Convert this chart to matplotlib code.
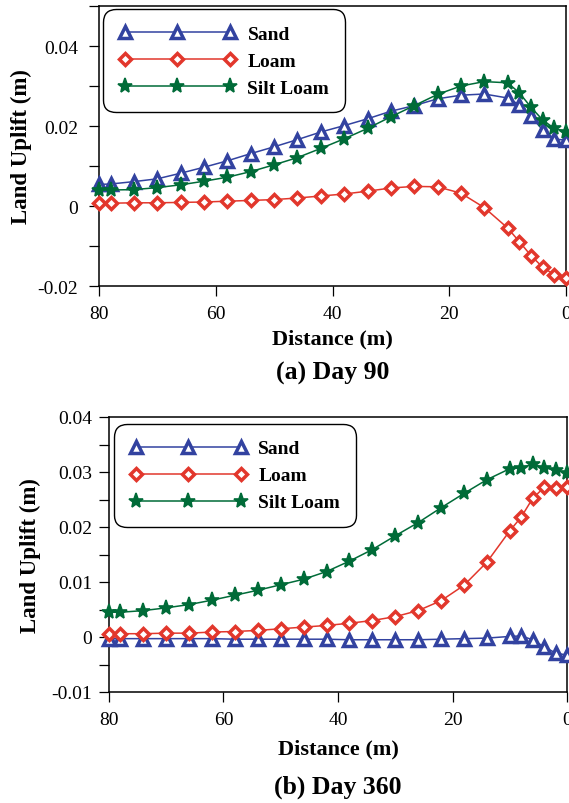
import matplotlib
matplotlib.use("Agg")
import matplotlib.pyplot as plt
from matplotlib.ticker import MultipleLocator

plt.rcParams['font.family'] = ['Liberation Serif', 'DejaVu Serif']

# 距离 (m)
distance = [80, 78, 74, 70, 66, 62, 58, 54, 50, 46, 42, 38, 34, 30, 26, 22, 18, 14, 10, 8, 6, 4, 2, 0]

# Day 90
sand_90 = [0.0054, 0.0055, 0.0061, 0.0068, 0.0082, 0.0097, 0.0113, 0.0131, 0.0148, 0.0166, 0.0185, 0.0201,
           0.0218, 0.0237, 0.0251, 0.0268, 0.0277, 0.0280, 0.0270, 0.0253, 0.0224, 0.0190, 0.0168, 0.0164]
loam_90 = [0.0007, 0.0007, 0.0008, 0.0008, 0.0009, 0.0010, 0.0012, 0.0014, 0.0016, 0.0020, 0.0025, 0.0030,
           0.0037, 0.0045, 0.0049, 0.0048, 0.0032, -0.0004, -0.0055, -0.0089, -0.0124, -0.0153, -0.0172, -0.0179]
silt_90 = [0.0040, 0.0040, 0.0041, 0.0046, 0.0053, 0.0062, 0.0072, 0.0086, 0.0103, 0.0121, 0.0144, 0.0168,
           0.0194, 0.0223, 0.0251, 0.0279, 0.0300, 0.0311, 0.0308, 0.0283, 0.0247, 0.0215, 0.0194, 0.0186]

# Day 360
sand_360 = [-0.0003, -0.0003, -0.0003, -0.0003, -0.0003, -0.0003, -0.0004, -0.0004, -0.0004, -0.0004, -0.0004, -0.0005,
            -0.0005, -0.0005, -0.0005, -0.0004, -0.0003, -0.0002, 0.0001, 0.0002, -0.0005, -0.0018, -0.0029, -0.0033]
loam_360 = [0.0006, 0.0006, 0.0006, 0.0007, 0.0007, 0.0009, 0.0010, 0.0012, 0.0015, 0.0018, 0.0021, 0.0025,
            0.0030, 0.0037, 0.0048, 0.0066, 0.0094, 0.0136, 0.0193, 0.0218, 0.0252, 0.0272, 0.0271, 0.0272]
silt_360 = [0.0045, 0.0045, 0.0048, 0.0053, 0.0059, 0.0067, 0.0076, 0.0085, 0.0095, 0.0105, 0.0119, 0.0138,
            0.0159, 0.0184, 0.0208, 0.0235, 0.0261, 0.0286, 0.0306, 0.0308, 0.0314, 0.0308, 0.0303, 0.0299]

labels = ["Sand", "Loam", "Silt Loam"]
colors = ["#3242a0", "#e2372c", "#006b38"]
markers = ["^", "D", "*"]
msizes = [8.0, 6.5, 11.0]


def draw_panel(ax, series, ylim, major, yfmt, tick_pad, legend_xy, label_xy, xlabel_y, title_y, title):
    for y, lab, c, m, ms in zip(series, labels, colors, markers, msizes):
        face = c if m == "*" else "white"
        ax.plot(distance, y, color=c, lw=1.1, marker=m, ms=ms, mfc=face, mec=c,
                mew=1.2 if m == "*" else 2.5, label=lab, clip_on=False, zorder=3)
    ax.set_xlim(80, 0)
    ax.set_ylim(*ylim)
    ax.xaxis.set_major_locator(MultipleLocator(20))
    ax.yaxis.set_major_locator(MultipleLocator(major))
    ax.yaxis.set_minor_locator(MultipleLocator(major / 2))
    ax.yaxis.set_major_formatter(plt.FuncFormatter(yfmt))
    ax.tick_params(axis="both", which="both", direction="out", length=7, width=0.9, labelsize=14)
    ax.tick_params(axis="y", pad=tick_pad)
    ax.tick_params(axis="x", pad=7)
    for sp in ax.spines.values():
        sp.set_linewidth(1.1)

    leg = ax.legend(loc="upper left", bbox_to_anchor=legend_xy, borderaxespad=0, numpoints=3,
                    handlelength=6.0, handletextpad=0.6, labelspacing=0.48, borderpad=0.82,
                    prop={"family": "Liberation Serif", "weight": "bold", "size": 14})
    frame = leg.get_frame()
    frame.set_boxstyle("round,pad=0,rounding_size=0.65")
    frame.set_edgecolor("black")
    frame.set_linewidth(1.0)
    frame.set_alpha(1)

    ax.set_ylabel("Land Uplift (m)", fontsize=16.5, fontweight="bold")
    ax.yaxis.label.set_va("center")
    ax.yaxis.set_label_coords(*label_xy)
    ax.set_xlabel("Distance (m)", fontsize=16, fontweight="bold")
    ax.xaxis.label.set_va("center")
    ax.xaxis.set_label_coords(0.5, xlabel_y)
    ax.text(0.5, title_y, title, transform=ax.transAxes, ha="center", va="center",
            fontsize=18.5, fontweight="bold")


def fmt_a(v, pos):
    return "0" if abs(v) < 1e-9 else f"{v:.2f}"


fig = plt.figure(figsize=(5.69, 8.04), dpi=100)
ax1 = fig.add_axes([99 / 569, 1 - 287 / 804, 467 / 569, 280 / 804])
ax2 = fig.add_axes([109 / 569, 1 - 693 / 804, 458 / 569, 275 / 804])

draw_panel(ax1, [sand_90, loam_90, silt_90], (-0.02, 0.05), 0.02, fmt_a, 8,
           (0.009, 0.989), (-0.167, 0.5), -0.186, -0.307, "(a) Day 90")
draw_panel(ax2, [sand_360, loam_360, silt_360], (-0.01, 0.04), 0.01, fmt_a, 5,
           (0.011, 0.975), (-0.1725, 0.5), -0.204, -0.342, "(b) Day 360")

fig.savefig("out.png", dpi=100)
